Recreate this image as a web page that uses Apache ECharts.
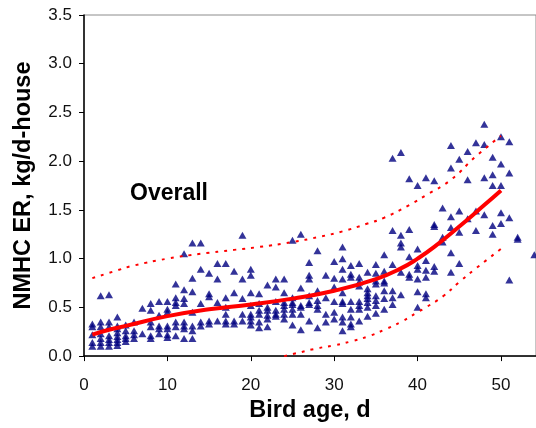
<!DOCTYPE html>
<html>
<head>
<meta charset="utf-8">
<style>
  html, body { margin: 0; padding: 0; background: #fff; }
  #chart { width: 536px; height: 428px; }
</style>
<script src="https://cdn.jsdelivr.net/npm/echarts@6/dist/echarts.min.js"></script>
</head>
<body>
<div id="chart"></div>
<script>
// ---- Data ----
const obsDays = [1,2,3,4,5,6,7,8,9,10,11,12,13,14,15,16,17,18,19,20,21,22,23,24,25,26,27,28,29,30,31,32,33,34,35,36,37,38,39,40,41,42,43,44,45,46,47,48,49,50,51,52,54];
const obsValues = [
  [0.33,0.30,0.22,0.14,0.10],
  [0.62,0.35,0.30,0.23,0.18,0.14,0.10],
  [0.63,0.35,0.30,0.21,0.17,0.14,0.10],
  [0.40,0.31,0.28,0.24,0.20,0.17,0.14,0.11],
  [0.32,0.26,0.21,0.18,0.15],
  [0.35,0.26,0.22,0.18],
  [0.49,0.23],
  [0.54,0.47,0.35,0.30,0.21,0.18],
  [0.56,0.42,0.31,0.28,0.23],
  [0.56,0.48,0.45,0.31,0.28,0.22,0.19],
  [0.74,0.60,0.55,0.52,0.35,0.30,0.21],
  [1.05,0.68,0.59,0.54,0.35,0.31,0.28,0.18],
  [1.16,0.80,0.66,0.45,0.31,0.26,0.18],
  [1.16,0.89,0.54,0.35,0.31],
  [0.85,0.64,0.61,0.36,0.33],
  [0.95,0.79,0.55,0.36],
  [0.95,0.60,0.50,0.43,0.36,0.33],
  [0.87,0.65,0.36,0.33],
  [1.24,0.79,0.59,0.43,0.36],
  [0.89,0.83,0.65,0.52,0.43,0.40,0.36,0.32],
  [0.64,0.54,0.47,0.43,0.35,0.29],
  [0.73,0.50,0.47,0.42,0.38,0.30],
  [0.79,0.71,0.56,0.47,0.43,0.41],
  [0.79,0.65,0.55,0.52,0.48,0.43,0.38],
  [1.19,0.60,0.55,0.53,0.48,0.43,0.32],
  [1.25,0.70,0.52,0.50,0.43,0.27],
  [0.96,0.83,0.79,0.62,0.55,0.53,0.36],
  [1.08,0.67,0.57,0.52,0.48,0.29],
  [0.83,0.60,0.43,0.35],
  [0.97,0.80,0.71,0.56,0.45,0.38],
  [1.12,1.00,0.89,0.79,0.65,0.56,0.54,0.40,0.35,0.26],
  [0.93,0.84,0.81,0.56,0.48,0.40,0.33,0.30],
  [0.95,0.81,0.76,0.72,0.56,0.52,0.48,0.36],
  [0.86,0.69,0.65,0.62,0.59,0.55,0.50,0.41],
  [0.94,0.85,0.77,0.74,0.62,0.57,0.52,0.44],
  [1.04,0.87,0.77,0.75,0.67,0.59,0.48],
  [2.03,1.29,0.94,0.67,0.60,0.53],
  [2.09,1.24,1.16,1.12,0.86,0.63],
  [1.82,1.30,1.02,0.84,0.81],
  [1.75,1.10,0.93,0.89,0.79,0.66,0.50],
  [1.83,0.98,0.88,0.81,0.64,0.60],
  [1.80,1.35,1.33,0.92,0.87],
  [1.52,1.22,1.17],
  [2.16,1.93,1.43,1.32,1.06,0.86],
  [2.02,1.49,1.27,0.95],
  [2.10,1.81,1.41],
  [2.19,1.49,1.29],
  [2.38,2.17,1.83,1.45],
  [2.04,1.86,1.75,1.34,1.25],
  [2.25,1.97,1.75,1.47,1.36],
  [2.20,1.88,1.42,0.78],
  [1.22,1.20],
  [1.04]
];

// fitted curve (solid) read at selected ages
const fitDays   = [1, 3, 5, 10, 15, 20, 25, 30, 35, 38, 40, 42, 45, 48, 50];
const fitValues = [0.22, 0.27, 0.31, 0.41, 0.48, 0.53, 0.59, 0.67, 0.79, 0.90, 1.00, 1.12, 1.33, 1.55, 1.70];

// upper bound (dotted)
const upperDays   = [1, 4, 6, 10, 14, 18, 21, 25, 28, 31, 34, 36, 39, 41, 44, 47, 50];
const upperValues = [0.80, 0.88, 0.93, 1.00, 1.05, 1.09, 1.12, 1.17, 1.22, 1.28, 1.36, 1.42, 1.55, 1.65, 1.81, 2.05, 2.26];

// lower bound (dotted)
const lowerDays   = [24, 25, 28, 30, 32, 34, 36, 38, 40, 41, 43, 45, 47, 50];
const lowerValues = [0.00, 0.02, 0.08, 0.11, 0.15, 0.20, 0.27, 0.35, 0.45, 0.50, 0.61, 0.76, 0.90, 1.10];

const yTicks = [0, 0.5, 1.0, 1.5, 2.0, 2.5, 3.0, 3.5];
const xTicks = [0, 10, 20, 30, 40, 50];

// ---- Build series data ----
const scatterData = [];
obsDays.forEach((d, i) => obsValues[i].forEach(v => scatterData.push([d, v])));
const pair = (xs, ys) => xs.map((x, i) => [x, ys[i]]);

const FONT = "'Liberation Sans', Arial, sans-serif";
const chart = echarts.init(document.getElementById('chart'), null, { renderer: 'canvas' });

chart.setOption({
  animation: false,
  backgroundColor: '#ffffff',
  grid: {
    left: 84, right: -1, top: 15, bottom: 71,
    show: true, borderColor: '#8c8c8c', borderWidth: 1, backgroundColor: 'transparent'
  },
  xAxis: {
    type: 'value',
    min: 0, max: 54.2, interval: 10,
    name: 'Bird age, d',
    nameLocation: 'middle',
    nameGap: 42,
    nameTextStyle: { fontFamily: FONT, fontWeight: 'bold', fontSize: 23.5, color: '#000' },
    axisLine: { show: true, lineStyle: { color: '#000', width: 1.5 } },
    axisTick: { show: true, inside: false, length: 5, lineStyle: { color: '#000' } },
    axisLabel: {
      show: true, fontFamily: FONT, fontSize: 17, color: '#111', margin: 21,
      showMaxLabel: false,
      formatter: v => (xTicks.indexOf(v) >= 0 ? String(v) : '')
    },
    splitLine: { show: false }
  },
  yAxis: {
    type: 'value',
    min: 0, max: 3.5, interval: 0.5,
    name: 'NMHC ER, kg/d-house',
    nameLocation: 'middle',
    nameGap: 48,
    nameTextStyle: { fontFamily: FONT, fontWeight: 'bold', fontSize: 23.5, color: '#000' },
    axisLine: { show: true, lineStyle: { color: '#000', width: 1.5 } },
    axisTick: { show: true, inside: false, length: 5, lineStyle: { color: '#000' } },
    axisLabel: {
      show: true, fontFamily: FONT, fontSize: 17, color: '#111', margin: 12,
      formatter: v => (yTicks.indexOf(v) >= 0 ? v.toFixed(1) : '')
    },
    splitLine: { show: false }
  },
  graphic: [{
    type: 'text',
    style: {
      x: 208, y: 194, text: 'Overall', align: 'right', verticalAlign: 'middle',
      font: "bold 23px 'Liberation Sans', Arial, sans-serif", fill: '#000'
    }
  }],
  series: [
    {
      type: 'scatter',
      data: scatterData,
      symbol: 'triangle',
      symbolSize: [8, 7],
      itemStyle: { color: '#000080' },
      z: 2
    },
    {
      type: 'line',
      data: pair(fitDays, fitValues),
      smooth: true,
      showSymbol: false,
      lineStyle: { color: '#ff0000', width: 4 },
      z: 3
    },
    {
      type: 'line',
      data: pair(upperDays, upperValues),
      smooth: true,
      showSymbol: false,
      lineStyle: { color: '#ff0000', width: 2, type: [3, 6] },
      z: 3
    },
    {
      type: 'line',
      data: pair(lowerDays, lowerValues),
      smooth: true,
      showSymbol: false,
      lineStyle: { color: '#ff0000', width: 2, type: [3, 6] },
      z: 3
    }
  ]
});
</script>
</body>
</html>
